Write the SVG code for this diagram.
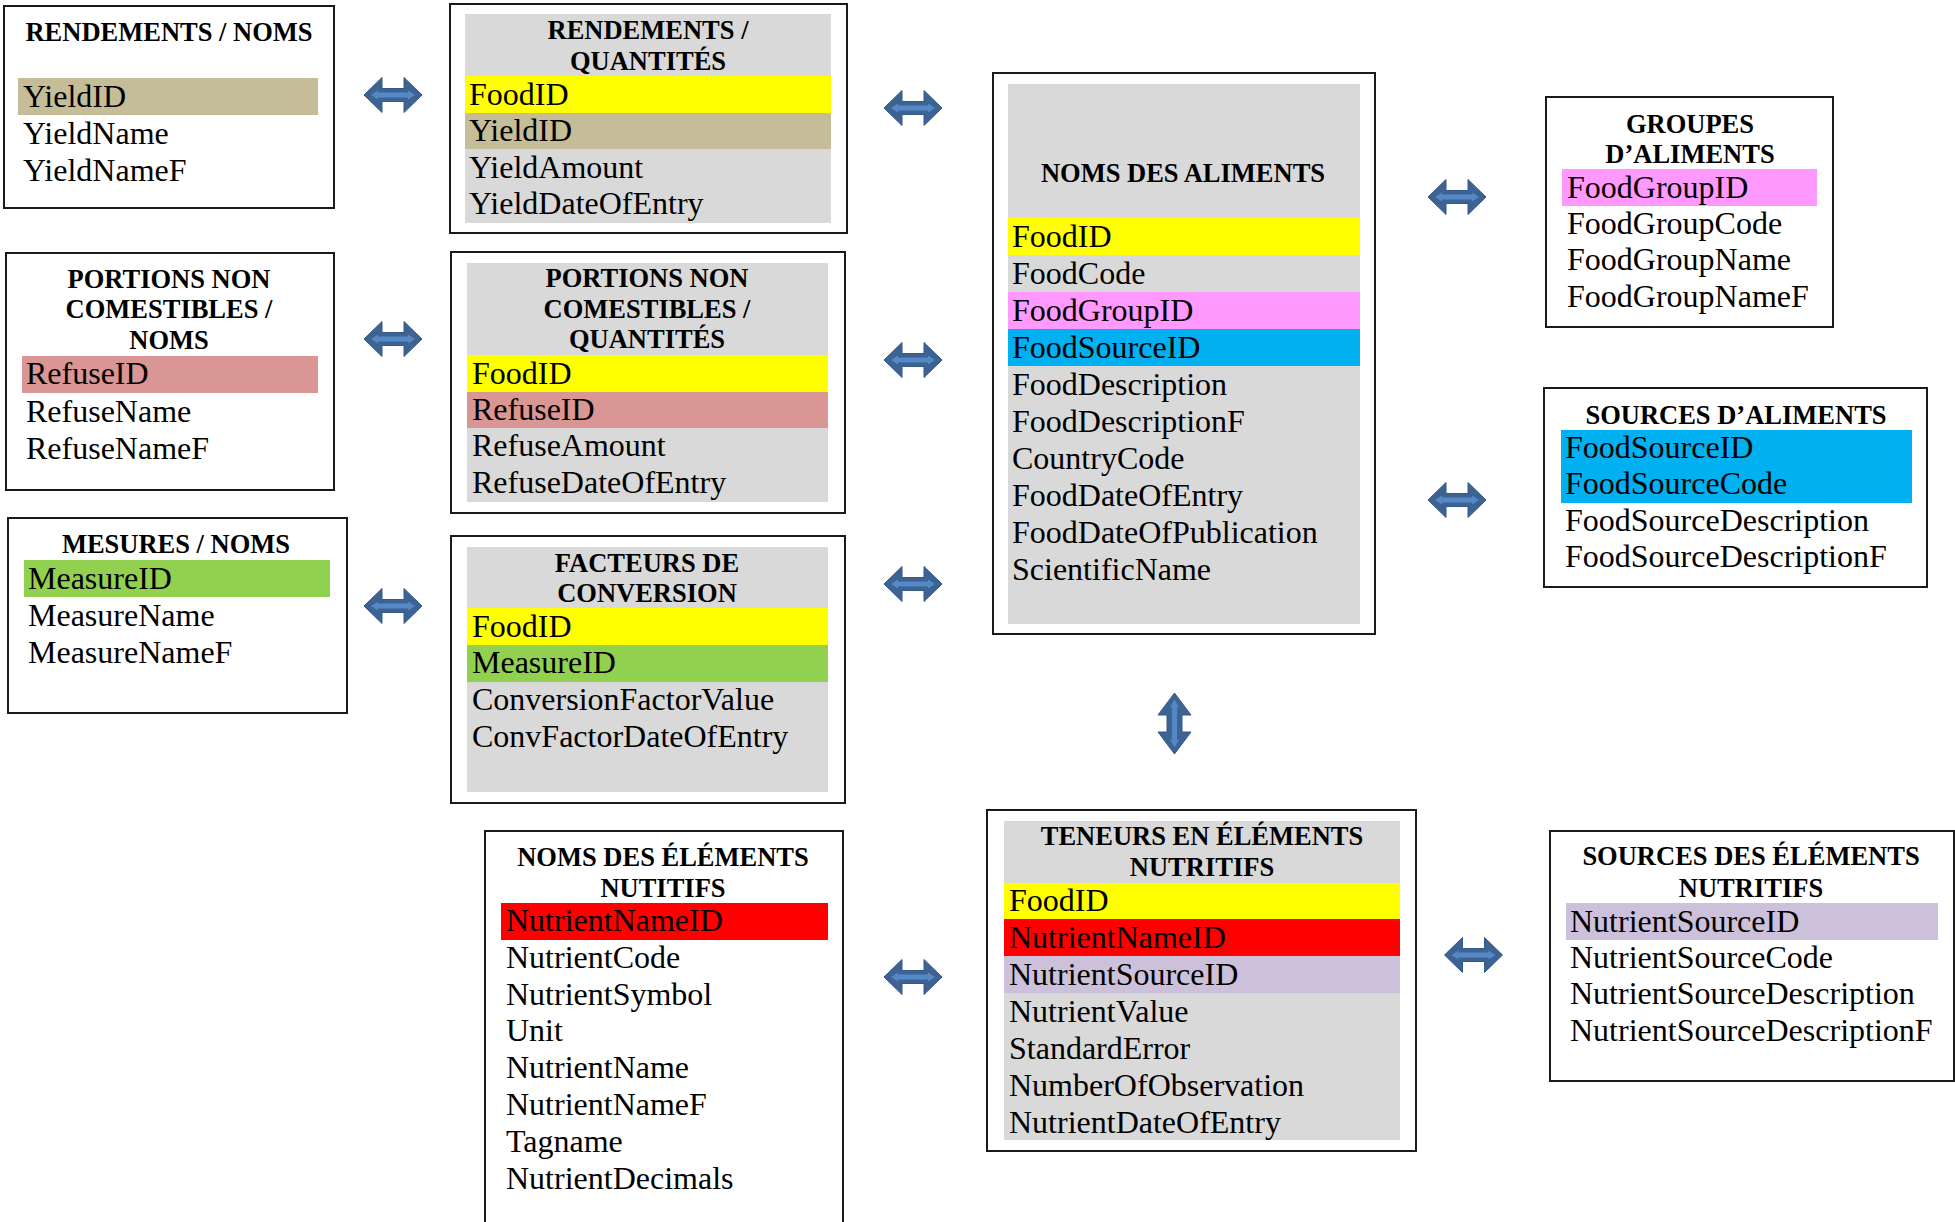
<svg xmlns="http://www.w3.org/2000/svg" xmlns:xlink="http://www.w3.org/1999/xlink" width="1955" height="1222" viewBox="0 0 1955 1222">
<style>
.box{fill:#fff;stroke:#1a1a1a;stroke-width:2}
.grey{fill:#d9d9d9}
.yel{fill:#ffff00}
.tan{fill:#c4bd97}
.rose{fill:#da9694}
.grn{fill:#92d050}
.mag{fill:#ff99ff}
.blu{fill:#00b0f0}
.red{fill:#ff0000}
.lil{fill:#ccc0da}
.t{font-family:"Liberation Serif","Times New Roman",serif;font-weight:bold;font-size:26.5px;text-anchor:middle;fill:#000}
.f{font-family:"Liberation Serif","Times New Roman",serif;font-size:32px;fill:#000}
</style>
<defs>
<g id="harrow">
<path d="M-29,0 L-11,-17.5 L-11,-6.5 L11,-6.5 L11,-17.5 L29,0 L11,17.5 L11,6.5 L-11,6.5 L-11,17.5 Z" fill="#3d6393" stroke="#34588a" stroke-width="1"/>
<path d="M-22,0 L-15,-4.5 L-15,-2.5 L15,-2.5 L15,-4.5 L22,0 L15,4.5 L15,2.5 L-15,2.5 L-15,4.5 Z" fill="#5588c6"/>
</g>
<g id="varrow">
<path d="M0,-30.5 L16.5,-8.5 L7.5,-8.5 L7.5,8.5 L16.5,8.5 L0,30.5 L-16.5,8.5 L-7.5,8.5 L-7.5,-8.5 L-16.5,-8.5 Z" fill="#3d6393" stroke="#34588a" stroke-width="1"/>
<path d="M0,-24 L4.5,-16 L2.5,-16 L2.5,16 L4.5,16 L0,24 L-4.5,16 L-2.5,16 L-2.5,-16 L-4.5,-16 Z" fill="#5588c6"/>
</g>
</defs>

<g id="rendements_noms">
<rect class="box" x="4" y="6" width="330" height="202"/>
<rect class="tan" x="18" y="78" width="300" height="37"/>
<text class="t" x="169" y="41">RENDEMENTS / NOMS</text>
<text class="f" x="23" y="107">YieldID</text>
<text class="f" x="23" y="144">YieldName</text>
<text class="f" x="23" y="181">YieldNameF</text>
</g>

<g id="rendements_quantites">
<rect class="box" x="450" y="4" width="397" height="229"/>
<rect class="grey" x="465" y="14" width="366" height="209"/>
<rect class="yel" x="465" y="76" width="366" height="37"/>
<rect class="tan" x="465" y="113" width="366" height="36"/>
<text class="t" x="648" y="39">RENDEMENTS /</text>
<text class="t" x="648" y="70">QUANTITÉS</text>
<text class="f" x="469" y="105">FoodID</text>
<text class="f" x="469" y="141">YieldID</text>
<text class="f" x="469" y="178">YieldAmount</text>
<text class="f" x="469" y="214">YieldDateOfEntry</text>
</g>

<g id="portions_noms">
<rect class="box" x="6" y="253" width="328" height="237"/>
<rect class="rose" x="22" y="356" width="296" height="37"/>
<text class="t" x="169" y="288">PORTIONS NON</text>
<text class="t" x="169" y="318">COMESTIBLES /</text>
<text class="t" x="169" y="349">NOMS</text>
<text class="f" x="26" y="384">RefuseID</text>
<text class="f" x="26" y="422">RefuseName</text>
<text class="f" x="26" y="459">RefuseNameF</text>
</g>

<g id="portions_quantites">
<rect class="box" x="451" y="252" width="394" height="261"/>
<rect class="grey" x="467" y="263" width="361" height="239"/>
<rect class="yel" x="467" y="355" width="361" height="37"/>
<rect class="rose" x="467" y="392" width="361" height="36"/>
<text class="t" x="647" y="287">PORTIONS NON</text>
<text class="t" x="647" y="318">COMESTIBLES /</text>
<text class="t" x="647" y="348">QUANTITÉS</text>
<text class="f" x="472" y="384">FoodID</text>
<text class="f" x="472" y="420">RefuseID</text>
<text class="f" x="472" y="456">RefuseAmount</text>
<text class="f" x="472" y="493">RefuseDateOfEntry</text>
</g>

<g id="mesures_noms">
<rect class="box" x="8" y="518" width="339" height="195"/>
<rect class="grn" x="24" y="560" width="306" height="37"/>
<text class="t" x="176" y="553">MESURES / NOMS</text>
<text class="f" x="28" y="589">MeasureID</text>
<text class="f" x="28" y="626">MeasureName</text>
<text class="f" x="28" y="663">MeasureNameF</text>
</g>

<g id="facteurs_conversion">
<rect class="box" x="451" y="536" width="394" height="267"/>
<rect class="grey" x="467" y="547" width="361" height="245"/>
<rect class="yel" x="467" y="608" width="361" height="37"/>
<rect class="grn" x="467" y="645" width="361" height="37"/>
<text class="t" x="647" y="572">FACTEURS DE</text>
<text class="t" x="647" y="602">CONVERSION</text>
<text class="f" x="472" y="637">FoodID</text>
<text class="f" x="472" y="673">MeasureID</text>
<text class="f" x="472" y="710">ConversionFactorValue</text>
<text class="f" x="472" y="747">ConvFactorDateOfEntry</text>
</g>

<g id="noms_aliments">
<rect class="box" x="993" y="73" width="382" height="561"/>
<rect class="grey" x="1008" y="84" width="352" height="540"/>
<rect class="yel" x="1008" y="218" width="352" height="37"/>
<rect class="mag" x="1008" y="292" width="352" height="37"/>
<rect class="blu" x="1008" y="329" width="352" height="37"/>
<text class="t" x="1183" y="182">NOMS DES ALIMENTS</text>
<text class="f" x="1012" y="247">FoodID</text>
<text class="f" x="1012" y="284">FoodCode</text>
<text class="f" x="1012" y="321">FoodGroupID</text>
<text class="f" x="1012" y="358">FoodSourceID</text>
<text class="f" x="1012" y="395">FoodDescription</text>
<text class="f" x="1012" y="432">FoodDescriptionF</text>
<text class="f" x="1012" y="469">CountryCode</text>
<text class="f" x="1012" y="506">FoodDateOfEntry</text>
<text class="f" x="1012" y="543">FoodDateOfPublication</text>
<text class="f" x="1012" y="580">ScientificName</text>
</g>

<g id="groupes_aliments">
<rect class="box" x="1546" y="97" width="287" height="230"/>
<rect class="mag" x="1562" y="169" width="255" height="37"/>
<text class="t" x="1690" y="133">GROUPES</text>
<text class="t" x="1690" y="163">D’ALIMENTS</text>
<text class="f" x="1567" y="198">FoodGroupID</text>
<text class="f" x="1567" y="234">FoodGroupCode</text>
<text class="f" x="1567" y="270">FoodGroupName</text>
<text class="f" x="1567" y="307">FoodGroupNameF</text>
</g>

<g id="sources_aliments">
<rect class="box" x="1544" y="388" width="383" height="199"/>
<rect class="blu" x="1561" y="430" width="351" height="73"/>
<text class="t" x="1736" y="424">SOURCES D’ALIMENTS</text>
<text class="f" x="1565" y="458">FoodSourceID</text>
<text class="f" x="1565" y="494">FoodSourceCode</text>
<text class="f" x="1565" y="531">FoodSourceDescription</text>
<text class="f" x="1565" y="567">FoodSourceDescriptionF</text>
</g>

<g id="noms_elements">
<rect class="box" x="485" y="831" width="358" height="420"/>
<rect class="red" x="501" y="903" width="327" height="37"/>
<text class="t" x="663" y="866">NOMS DES ÉLÉMENTS</text>
<text class="t" x="663" y="897">NUTITIFS</text>
<text class="f" x="506" y="931">NutrientNameID</text>
<text class="f" x="506" y="968">NutrientCode</text>
<text class="f" x="506" y="1005">NutrientSymbol</text>
<text class="f" x="506" y="1041">Unit</text>
<text class="f" x="506" y="1078">NutrientName</text>
<text class="f" x="506" y="1115">NutrientNameF</text>
<text class="f" x="506" y="1152">Tagname</text>
<text class="f" x="506" y="1189">NutrientDecimals</text>
</g>

<g id="teneurs_elements">
<rect class="box" x="987" y="810" width="429" height="341"/>
<rect class="grey" x="1004" y="821" width="396" height="319"/>
<rect class="yel" x="1004" y="883" width="396" height="36"/>
<rect class="red" x="1004" y="919" width="396" height="37"/>
<rect class="lil" x="1004" y="956" width="396" height="37"/>
<text class="t" x="1202" y="845">TENEURS EN ÉLÉMENTS</text>
<text class="t" x="1202" y="876">NUTRITIFS</text>
<text class="f" x="1009" y="911">FoodID</text>
<text class="f" x="1009" y="948">NutrientNameID</text>
<text class="f" x="1009" y="985">NutrientSourceID</text>
<text class="f" x="1009" y="1022">NutrientValue</text>
<text class="f" x="1009" y="1059">StandardError</text>
<text class="f" x="1009" y="1096">NumberOfObservation</text>
<text class="f" x="1009" y="1133">NutrientDateOfEntry</text>
</g>

<g id="sources_elements">
<rect class="box" x="1550" y="831" width="404" height="250"/>
<rect class="lil" x="1566" y="903" width="372" height="37"/>
<text class="t" x="1751" y="865">SOURCES DES ÉLÉMENTS</text>
<text class="t" x="1751" y="897">NUTRITIFS</text>
<text class="f" x="1570" y="932">NutrientSourceID</text>
<text class="f" x="1570" y="968">NutrientSourceCode</text>
<text class="f" x="1570" y="1004">NutrientSourceDescription</text>
<text class="f" x="1570" y="1041">NutrientSourceDescriptionF</text>
</g>

<g id="connectors">
<use xlink:href="#harrow" href="#harrow" transform="translate(393,95)"/>
<use xlink:href="#harrow" href="#harrow" transform="translate(393,339)"/>
<use xlink:href="#harrow" href="#harrow" transform="translate(393,606)"/>
<use xlink:href="#harrow" href="#harrow" transform="translate(913,108)"/>
<use xlink:href="#harrow" href="#harrow" transform="translate(913,360)"/>
<use xlink:href="#harrow" href="#harrow" transform="translate(913,584)"/>
<use xlink:href="#harrow" href="#harrow" transform="translate(913,977)"/>
<use xlink:href="#harrow" href="#harrow" transform="translate(1457,197)"/>
<use xlink:href="#harrow" href="#harrow" transform="translate(1457,500)"/>
<use xlink:href="#harrow" href="#harrow" transform="translate(1473.5,955)"/>
<use xlink:href="#varrow" href="#varrow" transform="translate(1174.5,723.5)"/>
</g>
</svg>
